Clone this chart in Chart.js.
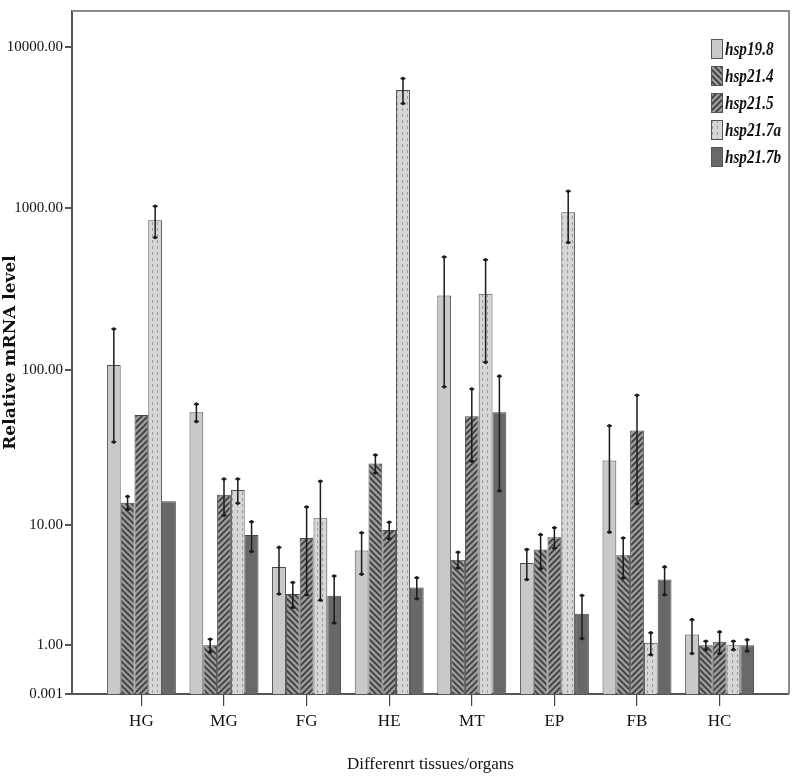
<!DOCTYPE html>
<html>
<head>
<meta charset="utf-8">
<script src="https://cdn.jsdelivr.net/npm/chart.js@4.4.1/dist/chart.umd.min.js"></script>
<style>
  body { margin: 0; background: #fff; }
  #wrap { width: 793px; height: 780px; }
</style>
</head>
<body>
<div id="wrap"><canvas id="exprChart"></canvas></div>
<script>
const tissues = ["HG", "MG", "FG", "HE", "MT", "EP", "FB", "HC"];
const genes = ["hsp19.8", "hsp21.4", "hsp21.5", "hsp21.7a", "hsp21.7b"];

// mean relative expression per tissue
const hsp198 = [107, 54, 5.1, 6.7, 289, 5.45, 26.7, 1.33];
const hsp214 = [14.2, 1.0, 3.15, 25.6, 5.75, 6.8, 6.2, 1.0];
const hsp215 = [52, 16, 8.2, 9.3, 51, 8.3, 41.5, 1.1];
const hsp217a = [845, 17.2, 11.2, 5400, 296, 945, 1.07, 1.0];
const hsp217b = [14.5, 8.6, 3.05, 3.55, 54, 2.13, 4.1, 1.0];

// error bar half-lengths
const err198 = [72, 6.8, 1.95, 2.2, 211, 1.35, 17.7, 0.55];
const err214 = [1.4, 0.18, 0.73, 3.4, 0.75, 1.85, 2.0, 0.12];
const err215 = [0, 4.3, 5.1, 1.2, 24.6, 1.35, 27.5, 0.32];
const err217a = [185, 3.1, 8.4, 950, 185, 330, 0.32, 0.12];
const err217b = [0, 2.0, 1.3, 0.67, 37, 0.93, 1.0, 0.16];

const yTicks = [0.001, 1, 10, 100, 1000, 10000];
const yTickLabels = ["0.001", "1.00", "10.00", "100.00", "1000.00", "10000.00"];

const SERIF = '"Liberation Serif", "DejaVu Serif", serif';

// y axis is a "safe log" scale: log10(v + 1)
function safeLog(v) {
  return Math.log10(v + 1);
}

// fill patterns for the bars
function makePattern(kind) {
  const s = 6;
  const c = document.createElement("canvas");
  c.width = s;
  c.height = s;
  const g = c.getContext("2d");
  if (kind === "back" || kind === "fwd") {
    g.fillStyle = "#9a9a9a";
    g.fillRect(0, 0, s, s);
    g.strokeStyle = "#3c3c3c";
    g.lineWidth = 1.6;
    g.beginPath();
    if (kind === "fwd") {
      g.moveTo(-1, s + 1); g.lineTo(s + 1, -1);
      g.moveTo(-1, 1); g.lineTo(1, -1);
      g.moveTo(s - 1, s + 1); g.lineTo(s + 1, s - 1);
    } else {
      g.moveTo(-1, -1); g.lineTo(s + 1, s + 1);
      g.moveTo(s - 1, -1); g.lineTo(s + 1, 1);
      g.moveTo(-1, s - 1); g.lineTo(1, s + 1);
    }
    g.stroke();
  } else {
    c.width = 5;
    g.fillStyle = "#d6d6d6";
    g.fillRect(0, 0, 5, s);
    g.fillStyle = "#9c9c9c";
    g.fillRect(2, 0, 1, 3);
  }
  return g.createPattern(c, "repeat");
}

const fills = [
  "#c9c9c9",
  makePattern("back"),
  makePattern("fwd"),
  makePattern("dash"),
  "#686868",
];
const means = [hsp198, hsp214, hsp215, hsp217a, hsp217b];
const errors = [err198, err214, err215, err217a, err217b];

const datasets = genes.map((g, k) => ({
  label: g,
  data: means[k].map((v, i) => ({ x: i, y: safeLog(v) })),
  raw: means[k],
  err: errors[k],
  backgroundColor: fills[k],
  borderColor: "#4a4a4a",
  borderWidth: 1,
  barPercentage: 1.0,
  categoryPercentage: 0.835,
}));

// error bars with small caps and dots
const errorBars = {
  id: "errorBars",
  afterDatasetsDraw(chart) {
    const ctx = chart.ctx;
    const y = chart.scales.y;
    ctx.save();
    ctx.strokeStyle = "#1c1c1c";
    ctx.fillStyle = "#1c1c1c";
    ctx.lineWidth = 1.5;
    chart.data.datasets.forEach((ds, k) => {
      chart.getDatasetMeta(k).data.forEach((bar, i) => {
        const m = ds.raw[i], e = ds.err[i];
        if (!e) return;
        const top = y.getPixelForValue(safeLog(m + e));
        const bot = y.getPixelForValue(safeLog(Math.max(m - e, 0)));
        ctx.beginPath();
        ctx.moveTo(bar.x, top);
        ctx.lineTo(bar.x, bot);
        ctx.moveTo(bar.x - 2.5, top);
        ctx.lineTo(bar.x + 2.5, top);
        ctx.moveTo(bar.x - 2.5, bot);
        ctx.lineTo(bar.x + 2.5, bot);
        ctx.stroke();
        [top, bot].forEach((py) => {
          ctx.beginPath();
          ctx.arc(bar.x, py, 1.8, 0, Math.PI * 2);
          ctx.fill();
        });
      });
    });
    ctx.restore();
  },
};

// frame lines on top and right, and the legend inside the plot
const frameAndLegend = {
  id: "frameAndLegend",
  afterDraw(chart) {
    const ctx = chart.ctx;
    const a = chart.chartArea;
    ctx.save();
    ctx.strokeStyle = "#8c8c8c";
    ctx.lineWidth = 2;
    ctx.beginPath();
    ctx.moveTo(a.left, a.top);
    ctx.lineTo(a.right, a.top);
    ctx.lineTo(a.right, a.bottom);
    ctx.stroke();

    const x0 = a.right - 78;
    chart.data.datasets.forEach((ds, k) => {
      const cy = a.top + 38 + k * 27;
      ctx.fillStyle = ds.backgroundColor;
      ctx.fillRect(x0, cy - 10, 12, 20);
      ctx.strokeStyle = "#555";
      ctx.lineWidth = 1;
      ctx.strokeRect(x0 + 0.5, cy - 9.5, 11, 19);
      ctx.save();
      ctx.translate(x0 + 14, cy);
      ctx.scale(0.8, 1);
      ctx.fillStyle = "#111";
      ctx.font = "bold italic 19px " + SERIF;
      ctx.textBaseline = "middle";
      ctx.fillText(ds.label, 0, 1);
      ctx.restore();
    });
    ctx.restore();
  },
};

new Chart(document.getElementById("exprChart"), {
  type: "bar",
  data: { datasets: datasets },
  plugins: [errorBars, frameAndLegend],
  options: {
    responsive: true,
    maintainAspectRatio: false,
    animation: false,
    layout: { padding: { top: 7, right: 4, left: 0, bottom: 0 } },
    plugins: {
      legend: { display: false },
      tooltip: { enabled: false },
    },
    scales: {
      x: {
        type: "linear",
        offset: false,
        min: -0.84,
        max: 7.84,
        afterBuildTicks: (scale) => {
          scale.ticks = tissues.map((t, i) => ({ value: i }));
        },
        afterFit: (scale) => {
          scale.height = 86;
        },
        ticks: {
          callback: (val, idx) => tissues[idx],
          color: "#111",
          font: { family: SERIF, size: 17 },
          padding: 5,
          maxRotation: 0,
        },
        grid: { offset: false, drawOnChartArea: false, drawTicks: true, tickLength: 12, color: "#444", lineWidth: 1.2 },
        border: { display: true, color: "#555", width: 2 },
        title: {
          display: true,
          text: "Differenrt tissues/organs",
          color: "#111",
          font: { family: SERIF, size: 17 },
          padding: { top: 0, bottom: 5 },
        },
      },
      y: {
        type: "linear",
        min: 0,
        max: 4.22,
        afterBuildTicks: (scale) => {
          scale.ticks = yTicks.map((v) => ({ value: safeLog(v) }));
        },
        afterFit: (scale) => {
          scale.width = 72;
        },
        ticks: {
          callback: (val, idx) => yTickLabels[idx],
          color: "#111",
          font: { family: SERIF, size: 15 },
          padding: 2,
        },
        grid: { drawOnChartArea: false, drawTicks: true, tickLength: 7, color: "#555", lineWidth: 2 },
        border: { display: true, color: "#555", width: 2 },
        title: {
          display: true,
          text: "Relative mRNA level",
          color: "#111",
          font: { family: '"DejaVu Serif", serif', size: 17, weight: "bold" },
          padding: { top: 0, bottom: 0 },
        },
      },
    },
  },
});
</script>
</body>
</html>
